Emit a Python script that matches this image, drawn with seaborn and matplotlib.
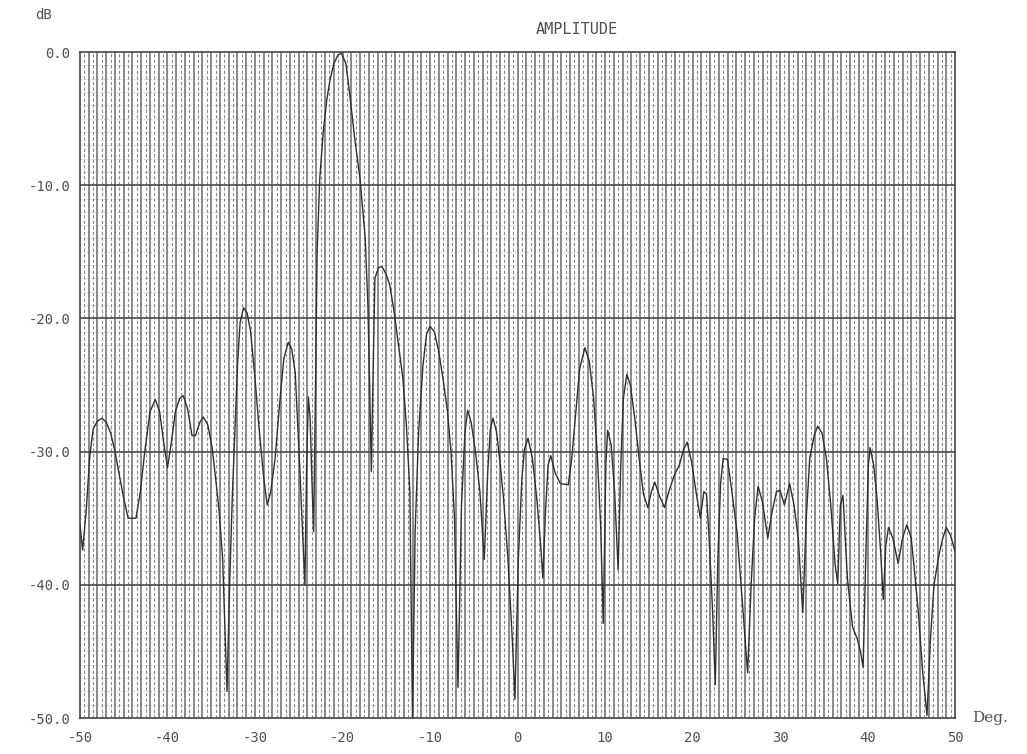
import matplotlib
matplotlib.use("Agg")
import matplotlib.pyplot as plt
import numpy as np
import pandas as pd
import seaborn as sns

# antenna pattern
angle_deg = [
    -50.0, -49.7, -49.3, -48.9, -48.5, -48.0, -47.5, -47.0, -46.5, -46.0,
    -45.5, -45.0, -44.5, -43.6, -43.1, -42.6, -42.0, -41.4, -40.9, -40.4,
    -40.0, -39.6, -39.1, -38.6, -38.2, -37.7, -37.2, -36.8, -36.3, -35.9,
    -35.4, -34.9, -34.5, -34.1, -33.7, -33.4, -33.2, -32.9, -32.6, -32.3,
    -32.0, -31.7, -31.3, -30.9, -30.5, -30.0, -29.5, -29.0, -28.6, -28.2,
    -27.7, -27.2, -26.7, -26.2, -25.8, -25.4, -24.9, -24.6, -24.3, -24.1,
    -23.9, -23.7, -23.5, -23.3, -23.1, -22.9, -22.6, -22.2, -21.8, -21.4,
    -21.0, -20.5, -20.1, -19.6, -19.1, -18.6, -18.0, -17.4, -17.1, -16.9,
    -16.7, -16.5, -16.3, -15.9, -15.5, -15.0, -14.6, -14.1, -13.6, -13.1,
    -12.7, -12.3, -12.0, -11.7, -11.3, -10.8, -10.4, -10.0, -9.5, -9.0,
    -8.5, -8.0, -7.6, -7.2, -6.8, -6.4, -6.0, -5.7, -5.3, -4.8,
    -4.3, -3.8, -3.4, -3.1, -2.8, -2.4, -2.0, -1.6, -1.1, -0.6,
    -0.3, 0.1, 0.5, 0.8, 1.2, 1.7, 2.2, 2.6, 2.9, 3.2,
    3.5, 3.8, 4.3, 4.9, 5.8, 6.2, 6.6, 7.1, 7.7, 8.2,
    8.7, 9.1, 9.5, 9.8, 10.1, 10.3, 10.7, 11.1, 11.5, 11.8,
    12.1, 12.5, 12.9, 13.4, 13.9, 14.4, 14.9, 15.3, 15.7, 16.2,
    16.8, 17.3, 17.9, 18.5, 19.0, 19.4, 19.9, 20.4, 20.9, 21.3,
    21.6, 21.9, 22.3, 22.6, 22.9, 23.2, 23.5, 24.0, 24.5, 25.1,
    25.6, 26.0, 26.3, 26.7, 27.1, 27.5, 28.0, 28.6, 29.1, 29.6,
    30.0, 30.5, 31.1, 31.6, 32.1, 32.6, 33.0, 33.4, 33.9, 34.3,
    34.8, 35.3, 35.8, 36.3, 36.6, 36.9, 37.2, 37.7, 38.3, 38.8,
    39.2, 39.5, 39.8, 40.1, 40.3, 40.7, 41.1, 41.5, 41.8, 42.1,
    42.4, 42.9, 43.5, 44.0, 44.5, 45.0, 45.3, 45.8, 46.3, 46.8,
    47.2, 47.6, 48.1, 48.6, 49.0, 49.5, 50.0,
]
level_db = [
    -35.5, -37.4, -34.5, -30.5, -28.3, -27.7, -27.5, -27.8, -28.6, -30.0,
    -31.8, -33.5, -35.0, -35.0, -33.0, -30.0, -27.0, -26.1, -27.0, -29.5,
    -31.2, -29.5, -27.0, -26.0, -25.8, -26.8, -28.8, -28.8, -27.8, -27.4,
    -28.0, -29.7, -32.0, -34.5, -38.0, -44.0, -48.0, -40.0, -33.5, -28.5,
    -23.5, -20.3, -19.2, -19.6, -21.0, -24.5, -28.5, -32.0, -34.0, -33.0,
    -30.5, -26.5, -23.0, -21.8, -22.3, -24.1, -31.0, -35.5, -40.0, -31.0,
    -25.9, -27.5, -32.0, -36.0, -26.0, -15.0, -9.5, -6.0, -3.6, -2.0,
    -0.9, -0.2, -0.1, -0.9, -3.6, -6.5, -9.5, -14.0, -19.0, -25.0,
    -31.5, -24.0, -17.0, -16.2, -16.1, -16.7, -17.5, -19.5, -22.0, -24.5,
    -28.0, -33.0, -50.0, -36.0, -28.5, -23.5, -21.2, -20.6, -21.0, -22.5,
    -24.6, -27.0, -30.0, -35.0, -47.7, -34.0, -28.5, -26.9, -27.8, -30.0,
    -33.0, -38.1, -31.5, -28.3, -27.5, -28.5, -30.8, -33.5, -38.0, -44.0,
    -48.6, -38.0, -32.0, -29.8, -29.0, -30.5, -33.5, -36.6, -39.5, -34.5,
    -31.0, -30.3, -31.6, -32.4, -32.5, -30.5, -27.5, -23.8, -22.2, -23.2,
    -26.0, -30.0, -35.5, -42.9, -31.0, -28.4, -29.5, -33.0, -38.9, -31.0,
    -26.0, -24.2, -25.0, -27.5, -30.5, -33.2, -34.2, -33.0, -32.3, -33.3,
    -34.2, -33.0, -31.8, -31.0, -29.8, -29.3, -30.8, -33.0, -35.0, -33.0,
    -33.2, -36.5, -42.0, -47.5, -38.0, -32.5, -30.5, -30.6, -33.0, -36.1,
    -40.5, -44.0, -46.6, -40.0, -35.0, -32.6, -33.8, -36.5, -34.5, -33.0,
    -32.9, -34.0, -32.4, -34.0, -36.6, -42.1, -35.0, -30.5, -28.8, -28.1,
    -28.6, -30.5, -34.0, -38.5, -39.9, -34.0, -33.3, -39.5, -43.2, -44.0,
    -45.0, -46.2, -38.0, -31.0, -29.7, -31.0, -33.6, -37.5, -41.1, -37.0,
    -35.7, -36.5, -38.4, -36.5, -35.5, -36.5, -38.5, -42.0, -46.5, -49.8,
    -44.0, -40.0, -38.0, -36.5, -35.7, -36.3, -37.5,
]

x_ticks = [-50, -40, -30, -20, -10, 0, 10, 20, 30, 40, 50]
y_ticks = [0, -10, -20, -30, -40, -50]
y_tick_labels = ["0.0", "-10.0", "-20.0", "-30.0", "-40.0", "-50.0"]

df = pd.DataFrame({"angle": angle_deg, "level": level_db})

sns.set_style("white")
plt.rcParams["font.family"] = ["DejaVu Sans Mono", "DejaVu Sans"]

fig = plt.figure(figsize=(10.27, 7.54), dpi=100)
ax = fig.add_axes([80 / 1027, 1 - 718 / 754, 875 / 1027, 666 / 754])

# plotter paper grid: 1 deg solid, 0.5 deg dashed, 10 dB solid, 1 dB dotted
ax.hlines(np.arange(-49, 0, 1), -50, 50, colors="#c8c8c8", lw=0.6,
          linestyles=(0, (2, 2)), zorder=0)
ax.vlines(np.arange(-49.5, 50, 1), -50, 0, colors="#8a8a8a", lw=0.8,
          linestyles=(0, (3, 2)), zorder=1)
ax.vlines(np.arange(-49, 50, 1), -50, 0, colors="#6a6a6a", lw=1.1, zorder=1)
ax.hlines([-10, -20, -30, -40], -50, 50, colors="#4a4a4a", lw=1.2, zorder=1)

sns.lineplot(data=df, x="angle", y="level", ax=ax, color="#303030",
             lw=1.0, sort=False, estimator=None, zorder=3)

ax.set_xlim(-50, 50)
ax.set_ylim(-50, 0)
ax.set_xticks(x_ticks)
ax.set_xticklabels([str(t) for t in x_ticks])
ax.set_yticks(y_ticks)
ax.set_yticklabels(y_tick_labels)
ax.tick_params(axis="both", colors="#505050", labelsize=10, length=4,
               width=1, direction="out")
ax.tick_params(axis="x", pad=5)
ax.tick_params(axis="y", pad=3)
ax.set_xlabel("")
ax.set_ylabel("")
for side in ax.spines:
    ax.spines[side].set_color("#444444")
    ax.spines[side].set_linewidth(1.2)

fig.text(43 / 1027, 1 - 15 / 754, "dB", fontsize=10, color="#505050",
         ha="center", va="center")
fig.text(577 / 1027, 1 - 29 / 754, "AMPLITUDE", fontsize=11, color="#505050",
         ha="center", va="center")
fig.text(990 / 1027, 1 - 718 / 754, "Deg.", fontsize=11, color="#505050",
         ha="center", va="center", family="DejaVu Serif")

fig.savefig("out.png", dpi=100, facecolor="white")
